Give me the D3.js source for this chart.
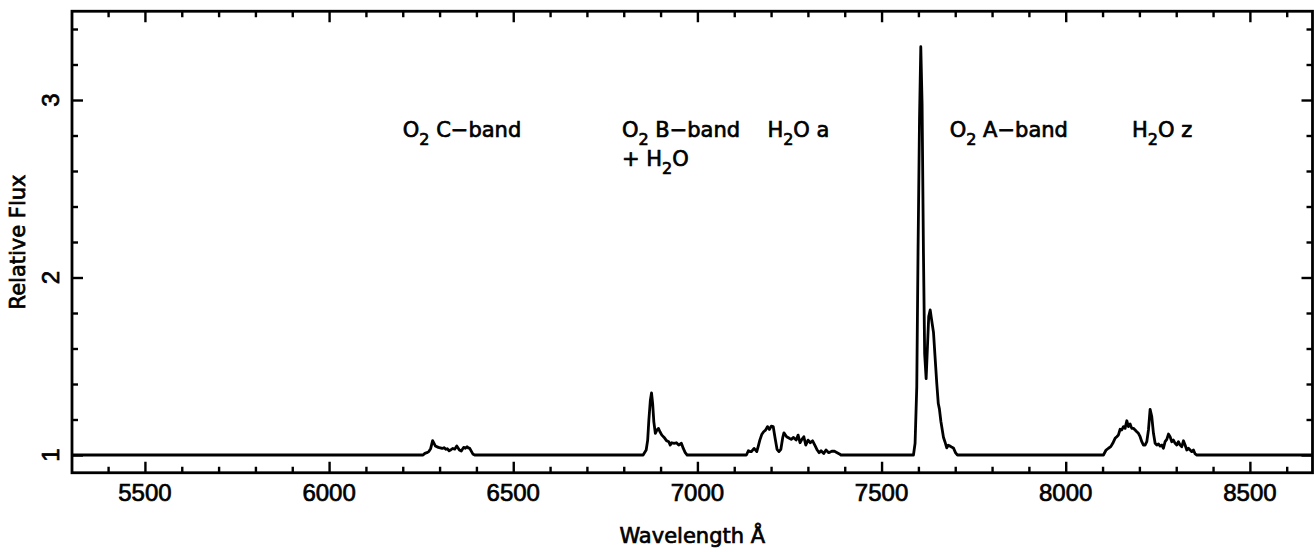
<!DOCTYPE html>
<html>
<head>
<meta charset="utf-8">
<script src="https://cdn.jsdelivr.net/npm/d3@7"></script>
<style>
  html, body { margin: 0; padding: 0; background: #fff; }
  svg { display: block; }
  .lab { font-family: "DejaVu Sans", sans-serif; font-size: 21px; fill: #000; stroke: #000; stroke-width: 0.7px; }
  .tick-lab { font-family: "Liberation Sans", Arial, sans-serif; font-size: 24px; fill: #000; stroke: #000; stroke-width: 0.7px; }
</style>
</head>
<body>
<svg id="chart" width="1314" height="552"></svg>
<script>
// Telluric absorption spectrum, relative flux versus wavelength (Angstrom)
const wave = [
  5302, 6255.1, 6260.0, 6265.5, 6270.7, 6275.9, 6281.1, 6288.4, 6296.7, 6302.0, 6307.1, 6312.0,
  6317.5, 6321.0, 6325.8, 6331.0, 6336.2, 6341.0, 6346.6, 6353.8, 6359.0, 6365.3, 6370.0, 6374.6,
  6378.0, 6381.9, 6390.2, 6395.4,
  6852.6, 6860.9, 6865.0, 6868.2, 6872.3, 6875.4, 6878.5, 6881.7, 6885.8, 6890.0, 6894.1, 6898.3,
  6903.5, 6909.7, 6916.0, 6922.2, 6926.3, 6930.5, 6936.7, 6943.0, 6949.2, 6956.5, 6961.7, 6966.9,
  6972.1,
  7133.1, 7138.3, 7143.5, 7146.6, 7153.9, 7161.2, 7165.3, 7169.5, 7174.6, 7179.8, 7185.0, 7190.2,
  7195.4, 7200.6, 7205.8, 7211.0, 7216.2, 7221.4, 7226.6, 7231.8, 7234.9, 7242.2, 7249.5, 7254.7,
  7260.9, 7268.2, 7273.4, 7278.6, 7283.8, 7289.0, 7294.1, 7300.4, 7306.6, 7312.8, 7320.1, 7325.3,
  7330.5, 7335.7, 7343.0, 7349.2, 7356.5, 7364.8, 7372.1, 7379.4, 7385.6, 7389.7,
  7586.6, 7591.0, 7595.6, 7599.0, 7603.0, 7606.5, 7610.0, 7613.7, 7617.0, 7621.0, 7624.6, 7628.0,
  7632.0, 7636.0, 7641.0, 7645.0, 7650.0, 7654.0, 7657.0, 7661.0, 7668.0, 7672.0, 7677.0, 7681.0,
  7686.0, 7690.0, 7695.0, 7701.0, 7706.0,
  8102.4, 8109.6, 8116.0, 8122.3, 8127.7, 8134.0, 8138.6, 8143.1, 8147.7, 8152.2, 8156.7, 8161.2,
  8165.8, 8170.3, 8174.8, 8179.3, 8183.9, 8188.4, 8192.9, 8197.4, 8202.0, 8206.5, 8211.0, 8215.5,
  8220.1, 8224.6, 8229.1, 8233.6, 8238.2, 8242.7, 8247.2, 8251.7, 8256.3, 8260.8, 8265.3, 8269.8,
  8274.4, 8278.9, 8283.4, 8287.9, 8292.5, 8297.0, 8301.5, 8306.0, 8310.6, 8315.1, 8319.6, 8324.1,
  8328.7, 8333.2, 8337.7, 8342.2, 8346.8, 8351.3, 8355.8,
  8670
];
const flux = [
  1.000, 1.000, 1.009, 1.013, 1.019, 1.037, 1.081, 1.051, 1.043, 1.040, 1.037, 1.041,
  1.032, 1.035, 1.024, 1.030, 1.037, 1.033, 1.051, 1.028, 1.022, 1.043, 1.038, 1.047,
  1.040, 1.037, 1.006, 1.000,
  1.000, 1.028, 1.084, 1.197, 1.309, 1.350, 1.290, 1.187, 1.122, 1.140, 1.150, 1.131,
  1.112, 1.099, 1.081, 1.075, 1.056, 1.069, 1.066, 1.069, 1.056, 1.066, 1.037, 1.013,
  1.000,
  1.000, 1.024, 1.019, 1.019, 1.037, 1.019, 1.050, 1.084, 1.115, 1.131, 1.140, 1.160,
  1.144, 1.163, 1.160, 1.094, 1.032, 1.019, 1.032, 1.100, 1.125, 1.103, 1.094, 1.088,
  1.099, 1.084, 1.112, 1.069, 1.088, 1.103, 1.056, 1.084, 1.069, 1.080, 1.050, 1.028,
  1.013, 1.024, 1.009, 1.028, 1.013, 1.021, 1.021, 1.013, 1.006, 1.000,
  1.000, 1.066, 1.385, 2.140, 2.890, 3.300, 2.980, 2.140, 1.570, 1.430, 1.610, 1.780,
  1.817, 1.760, 1.690, 1.560, 1.400, 1.290, 1.260, 1.190, 1.100, 1.075, 1.040, 1.055,
  1.050, 1.045, 1.040, 1.012, 1.000,
  1.000, 1.028, 1.038, 1.047, 1.066, 1.094, 1.103, 1.113, 1.145, 1.141, 1.160, 1.150,
  1.193, 1.160, 1.175, 1.150, 1.150, 1.141, 1.131, 1.122, 1.103, 1.075, 1.056, 1.056,
  1.075, 1.141, 1.257, 1.216, 1.122, 1.066, 1.056, 1.062, 1.050, 1.056, 1.038, 1.075,
  1.088, 1.118, 1.103, 1.075, 1.084, 1.066, 1.056, 1.075, 1.056, 1.047, 1.080, 1.056,
  1.028, 1.038, 1.028, 1.019, 1.028, 1.006, 1.000,
  1.000
];

// Axis ticks
const xMajorTicks = [5500, 6000, 6500, 7000, 7500, 8000, 8500];
const xMinorTicks = d3.range(5400, 8700, 100).filter(v => v % 500 !== 0);
const yMajorTicks = [1, 2, 3];
const yMinorTicks = [1.2, 1.4, 1.6, 1.8, 2.2, 2.4, 2.6, 2.8, 3.2, 3.4];

// Band annotations: [molecule, subscript, rest] anchored at wavelength / flux
const bandMolecule = ["O", "O", "+ H", "H", "O", "H"];
const bandSub      = ["2", "2", "2", "2", "2", "2"];
const bandRest     = [" C\u2212band", " B\u2212band", "O", "O a", " A\u2212band", "O z"];
const bandWave     = [6200, 6795, 6795, 7190, 7685, 8180];
const bandFlux     = [2.79, 2.79, 2.63, 2.79, 2.79, 2.79];

const xDomain = [5302, 8670];
const yDomain = [0.9, 3.5];

const svg = d3.select("#chart");
const L = 72, R = 1312.5, T = 11.25, B = 472.75;

const x = d3.scaleLinear().domain(xDomain).range([L, R]);
const y = d3.scaleLinear().domain(yDomain).range([B, T]);

const tickStroke = 2.4;

function drawAxis(axis, tx, ty) {
  const g = svg.append("g").attr("transform", `translate(${tx},${ty})`).call(axis);
  g.select(".domain").remove();
  g.selectAll(".tick line").attr("stroke", "#000").attr("stroke-width", tickStroke);
  g.selectAll(".tick text").remove();
  return g;
}

// bottom and top ticks, pointing inward
drawAxis(d3.axisBottom(x).tickValues(xMajorTicks).tickSize(-11), 0, B);
drawAxis(d3.axisBottom(x).tickValues(xMinorTicks).tickSize(-6), 0, B);
drawAxis(d3.axisTop(x).tickValues(xMajorTicks).tickSize(-11), 0, T);
drawAxis(d3.axisTop(x).tickValues(xMinorTicks).tickSize(-6), 0, T);
// left and right ticks
drawAxis(d3.axisLeft(y).tickValues(yMajorTicks).tickSize(-11), L, 0);
drawAxis(d3.axisLeft(y).tickValues(yMinorTicks).tickSize(-6), L, 0);
drawAxis(d3.axisRight(y).tickValues(yMajorTicks).tickSize(-11), R, 0);
drawAxis(d3.axisRight(y).tickValues(yMinorTicks).tickSize(-6), R, 0);

// x tick labels
svg.append("g").selectAll("text").data(xMajorTicks).join("text")
  .attr("class", "tick-lab")
  .attr("x", d => x(d)).attr("y", 501)
  .attr("text-anchor", "middle")
  .text(d => d);

// y tick labels, written along the axis
svg.append("g").selectAll("text").data(yMajorTicks).join("text")
  .attr("class", "tick-lab")
  .attr("transform", d => `translate(59,${y(d)}) rotate(-90)`)
  .attr("text-anchor", "middle")
  .text(d => d);

// axis titles
svg.append("text").attr("class", "lab")
  .attr("x", (L + R) / 2).attr("y", 543)
  .attr("text-anchor", "middle")
  .text("Wavelength \u00C5");

svg.append("text").attr("class", "lab")
  .attr("transform", `translate(25,${(T + B) / 2}) rotate(-90)`)
  .attr("text-anchor", "middle")
  .text("Relative Flux");

// spectrum
const pts = wave.map((w, i) => [w, flux[i]]);
svg.append("path")
  .datum(pts)
  .attr("fill", "none")
  .attr("stroke", "#000")
  .attr("stroke-width", 2.8)
  .attr("stroke-linejoin", "round")
  .attr("d", d3.line().x(d => x(d[0])).y(d => y(d[1])));

// band labels with subscripts
bandMolecule.forEach((m, i) => {
  const t = svg.append("text").attr("class", "lab")
    .attr("x", x(bandWave[i])).attr("y", y(bandFlux[i]));
  t.append("tspan").text(m);
  t.append("tspan").attr("dy", 8).attr("font-size", "16px").text(bandSub[i]);
  t.append("tspan").attr("dy", -8).attr("xml:space", "preserve").style("white-space", "pre").text(bandRest[i]);
});

// frame
svg.append("rect")
  .attr("x", L).attr("y", T)
  .attr("width", R - L).attr("height", B - T)
  .attr("fill", "none").attr("stroke", "#000").attr("stroke-width", 2.8);
</script>
</body>
</html>
